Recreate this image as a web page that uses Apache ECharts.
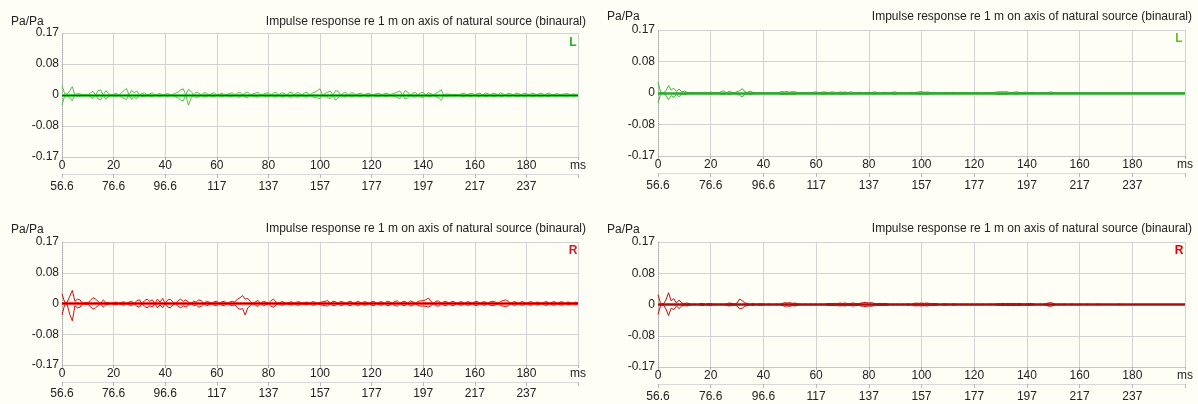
<!DOCTYPE html>
<html><head><meta charset="utf-8">
<script src="https://cdn.jsdelivr.net/npm/echarts@6/dist/echarts.min.js"></script>
<style>html,body{margin:0;padding:0;background:#fefef6;}#c{width:1198px;height:404px;}</style>
</head><body><div id="c"></div>
<script>
// ---------------- data ----------------
const sampleStepMs = 1; // envelope samples, 0..200 ms
const xTickLabels = ['0','20','40','60','80','100','120','140','160','180','ms'];
const timeTickLabels = ['56.6','76.6','96.6','117','137','157','177','197','217','237',''];
const yTickLabels = ['-0.17','-0.08','0','0.08','0.17'];
const panelTitle = 'Impulse response re 1 m on axis of natural source (binaural)';
const unitLabel = 'Pa/Pa';
const channelLabels = ['L','L','R','R'];

// top-left (L)
const tlUpper = [
.026,.004,.002,.012,.023,0,.004,.003,0,.002,
0,.006,.01,0,.012,.014,0,.012,.004,0,
.002,.005,0,.006,.012,.018,0,.013,.006,.011,
0,.004,.006,0,.003,.006,0,.002,.004,0,
.002,.004,0,.002,.005,.008,.014,.017,0,.016,
.01,0,.008,.005,0,.006,.005,0,.004,.006,
0,.002,.005,0,.002,.004,.006,0,.005,.007,
0,.006,.008,0,.003,.005,.007,0,.002,.005,
.006,0,.005,.007,0,.006,.005,0,.006,.008,
0,.006,.005,0,.006,.007,0,.005,.008,.012,
.017,0,.004,.008,.011,0,.012,.01,0,.005,
.007,0,.006,.005,0,.004,.005,0,.004,.005,
0,.002,.004,.005,0,.004,.005,0,.003,.005,
.008,.011,0,.012,.008,0,.005,.007,0,.006,
.007,0,.006,.004,0,.005,.009,.014,0,.003,
.002,0,.002,.001,0,.004,.005,0,.004,.005,
0,.004,.005,0,.005,.004,0,.005,.004,0,
.006,.003,0,.005,.003,0,.005,.004,0,.005,
.004,0,.005,.004,0,.004,.005,0,.004,.005,
0,.002,.004,0,.002,.003,.004,0,.003,.002,
0];
const tlLower = [
-.028,-.003,-.002,-.008,-.016,0,-.003,-.003,0,-.002,
0,-.005,-.01,0,-.011,-.013,0,-.012,-.004,0,
-.002,-.004,0,-.005,-.01,-.012,0,-.012,-.006,-.01,
0,-.004,-.005,0,-.003,-.005,0,-.002,-.004,0,
-.002,-.004,0,-.002,-.005,-.008,-.014,-.016,0,-.028,
-.01,0,-.007,-.005,0,-.006,-.005,0,-.004,-.005,
0,-.002,-.005,0,-.002,-.004,-.006,0,-.005,-.006,
0,-.006,-.007,0,-.003,-.005,-.006,0,-.002,-.005,
-.005,0,-.005,-.006,0,-.006,-.005,0,-.005,-.007,
0,-.006,-.005,0,-.005,-.006,0,-.005,-.007,-.008,
-.01,0,-.004,-.007,-.01,0,-.014,-.009,0,-.005,
-.006,0,-.005,-.005,0,-.004,-.004,0,-.004,-.005,
0,-.002,-.004,-.004,0,-.004,-.004,0,-.003,-.004,
-.007,-.01,0,-.011,-.008,0,-.005,-.006,0,-.006,
-.006,0,-.005,-.004,0,-.005,-.008,-.015,0,-.003,
-.002,0,-.002,-.001,0,-.004,-.004,0,-.004,-.004,
0,-.004,-.004,0,-.004,-.004,0,-.004,-.004,0,
-.005,-.003,0,-.004,-.003,0,-.004,-.004,0,-.004,
-.004,0,-.004,-.004,0,-.004,-.004,0,-.004,-.004,
0,-.002,-.003,0,-.002,-.003,-.003,0,-.003,-.002,
0];

// top-right (L)
const trUpper = [
.029,.002,.001,.006,.02,.008,.013,.004,.011,.003,
.005,.002,0,.002,0,.002,0,.001,.002,0,
.003,0,.001,0,.004,.006,0,.005,.002,0,
.004,.006,.012,.003,.002,.005,.002,0,.001,0,
.001,0,.001,0,.001,0,.002,.004,.003,.004,
.002,.004,.003,.001,0,.001,0,.002,0,.002,
.003,.001,.002,.003,.002,.001,.003,.002,0,.003,
.002,.003,.001,.003,.002,0,.002,.001,0,.001,
.002,.001,.003,.002,0,.001,.002,.001,0,.002,
.003,.001,0,.001,.001,0,.002,.001,.002,.003,
.004,.002,.003,.002,.001,.002,0,.001,0,.002,
.001,0,.002,.001,0,.001,.002,0,.001,.001,
0,.002,.001,0,.001,0,.001,.001,.002,.003,
.004,.003,.004,.002,.001,.002,.003,.002,.001,.002,
.002,.001,.002,.001,0,.001,0,.001,.001,.003,
.001,0,.001,0,0,.001,0,.001,0,0,
.001,0,0,.001,0,0,.001,0,0,0,
.001,0,0,0,.001,0,0,0,0,.001,
0,0,0,0,0,0,0,0,0,0,
0,0,0,0,0,0,0,0,0,0,
0];
const trLower = [
-.027,-.002,-.001,-.006,-.018,-.007,-.012,-.004,-.01,-.003,
-.004,-.002,0,-.002,0,-.002,0,-.001,-.002,0,
-.003,0,-.001,0,-.004,-.005,0,-.005,-.002,0,
-.004,-.006,-.011,-.003,-.002,-.004,-.002,0,-.001,0,
-.001,0,-.001,0,-.001,0,-.002,-.004,-.003,-.004,
-.002,-.004,-.003,-.001,0,-.001,0,-.002,0,-.002,
-.002,-.001,-.002,-.003,-.002,-.001,-.003,-.002,0,-.003,
-.002,-.003,-.001,-.002,-.002,0,-.002,-.001,0,-.001,
-.002,-.001,-.003,-.002,0,-.001,-.002,-.001,0,-.002,
-.003,-.001,0,-.001,-.001,0,-.002,-.001,-.002,-.003,
-.003,-.002,-.003,-.002,-.001,-.002,0,-.001,0,-.002,
-.001,0,-.002,-.001,0,-.001,-.002,0,-.001,-.001,
0,-.002,-.001,0,-.001,0,-.001,-.001,-.002,-.003,
-.004,-.003,-.004,-.002,-.001,-.002,-.003,-.002,-.001,-.002,
-.002,-.001,-.002,-.001,0,-.001,0,-.001,-.001,-.003,
-.001,0,-.001,0,0,-.001,0,-.001,0,0,
-.001,0,0,-.001,0,0,-.001,0,0,0,
-.001,0,0,0,-.001,0,0,0,0,-.001,
0,0,0,0,0,0,0,0,0,0,
0,0,0,0,0,0,0,0,0,0,
0];

// bottom-left (R)
const blUpper = [
.027,.004,.003,.02,.036,.006,.012,.01,0,.003,
.002,.008,.016,.012,.006,0,.01,.003,.002,0,
.002,.004,0,.003,.005,0,.004,.006,0,.008,
.01,0,.008,.012,.006,.01,0,.012,.004,.014,
0,.01,.012,.004,0,.008,.012,.006,.01,.004,
0,.006,.004,.01,.008,0,.006,.004,0,.005,
.006,0,.005,.006,0,.004,.006,.004,.012,.016,
.022,.012,.014,.006,0,.005,.008,0,.006,.004,
0,.008,.012,.004,0,.005,.004,0,.003,.005,
0,.004,.005,0,.003,.004,0,.005,.004,0,
.003,.005,.006,.008,0,.006,.005,0,.006,.004,
0,.005,.006,0,.004,.006,0,.005,.004,0,
.005,.006,0,.004,.005,0,.006,.005,0,.006,
.007,0,.005,.006,0,.007,.005,0,.006,.007,
.008,.01,.015,.006,0,.006,.007,0,.005,.006,
0,.006,.005,0,.004,.005,0,.005,.004,0,
.005,.006,0,.004,.005,0,.005,.006,.004,0,
.006,.008,.01,.006,0,.005,.004,0,.005,.004,
0,.004,.005,0,.004,.003,0,.004,.005,0,
.004,.005,0,.004,.005,0,.004,.003,0,.004,
0];
const blLower = [
-.032,-.004,-.003,-.03,-.048,-.006,-.012,-.01,0,-.003,
-.002,-.008,-.016,-.012,-.006,0,-.01,-.003,-.002,0,
-.002,-.004,0,-.003,-.005,0,-.004,-.006,0,-.008,
-.01,0,-.008,-.012,-.006,-.01,0,-.012,-.004,-.012,
0,-.01,-.012,-.004,0,-.008,-.012,-.006,-.01,-.004,
0,-.006,-.004,-.01,-.008,0,-.006,-.004,0,-.005,
-.006,0,-.005,-.006,0,-.004,-.006,-.004,-.012,-.016,
-.014,-.032,-.012,-.006,0,-.005,-.008,0,-.006,-.004,
0,-.008,-.01,-.004,0,-.005,-.004,0,-.003,-.005,
0,-.004,-.005,0,-.003,-.004,0,-.005,-.004,0,
-.003,-.005,-.006,-.007,0,-.006,-.005,0,-.006,-.004,
0,-.005,-.006,0,-.004,-.006,0,-.005,-.004,0,
-.005,-.006,0,-.004,-.005,0,-.006,-.005,0,-.006,
-.007,0,-.005,-.006,0,-.007,-.005,0,-.006,-.007,
-.007,-.008,-.01,-.006,0,-.006,-.007,0,-.005,-.006,
0,-.006,-.005,0,-.004,-.005,0,-.005,-.004,0,
-.005,-.006,0,-.004,-.005,0,-.005,-.006,-.004,0,
-.006,-.007,-.009,-.006,0,-.005,-.004,0,-.005,-.004,
0,-.004,-.005,0,-.004,-.003,0,-.004,-.005,0,
-.004,-.005,0,-.004,-.005,0,-.004,-.003,0,-.004,
0];

// bottom-right (R)
const brUpper = [
.027,.002,.001,.012,.032,.01,.016,.004,.012,.004,
.003,.004,.002,0,.001,0,.002,.003,0,.002,
.003,0,.001,0,.001,0,.002,.004,.003,.001,
.004,.015,.01,.004,.003,0,.003,0,.001,.002,
.001,0,.001,0,0,.001,0,.002,.005,.004,
.005,.003,.004,.002,.001,0,.001,0,.001,0,
.001,0,.001,0,.002,.003,.002,.003,.002,.004,
.003,.004,.002,.003,.004,.003,.002,.004,.005,.006,
.004,.005,.003,.002,.003,.002,.003,.002,0,.001,
0,.001,0,.001,0,.002,0,.003,.004,.003,
.004,.003,.004,.003,.002,.003,.002,0,.001,.002,
.001,0,.002,.001,0,.001,0,.001,0,.001,
0,.001,0,.001,0,0,.001,0,.001,.002,
.002,.003,.002,.003,.002,.003,.002,.003,.002,.001,
.002,.003,.002,.001,0,.001,0,.002,.004,.005,
.003,0,.001,0,.001,0,0,.001,0,0,
.001,0,0,.001,0,0,0,.001,0,0,
0,0,0,0,0,.001,0,0,0,0,
0,0,0,0,0,0,0,0,0,0,
0,0,0,0,0,0,0,0,0,0,
0];
const brLower = [
-.027,-.002,-.001,-.012,-.03,-.01,-.014,-.004,-.011,-.004,
-.003,-.004,-.002,0,-.001,0,-.002,-.003,0,-.002,
-.003,0,-.001,0,-.001,0,-.002,-.004,-.003,-.001,
-.004,-.012,-.01,-.004,-.003,0,-.003,0,-.001,-.002,
-.001,0,-.001,0,0,-.001,0,-.002,-.005,-.004,
-.005,-.003,-.004,-.002,-.001,0,-.001,0,-.001,0,
-.001,0,-.001,0,-.002,-.003,-.002,-.003,-.002,-.004,
-.003,-.004,-.002,-.003,-.004,-.003,-.002,-.004,-.005,-.006,
-.004,-.005,-.003,-.002,-.003,-.002,-.003,-.002,0,-.001,
0,-.001,0,-.001,0,-.002,0,-.003,-.004,-.003,
-.004,-.003,-.004,-.003,-.002,-.003,-.002,0,-.001,-.002,
-.001,0,-.002,-.001,0,-.001,0,-.001,0,-.001,
0,-.001,0,-.001,0,0,-.001,0,-.001,-.002,
-.002,-.003,-.002,-.003,-.002,-.003,-.002,-.003,-.002,-.001,
-.002,-.003,-.002,-.001,0,-.001,0,-.002,-.004,-.005,
-.003,0,-.001,0,-.001,0,0,-.001,0,0,
-.001,0,0,-.001,0,0,0,-.001,0,0,
0,0,0,0,0,-.001,0,0,0,0,
0,0,0,0,0,0,0,0,0,0,
0,0,0,0,0,0,0,0,0,0,
0];

// ---------------- layout / styles ----------------
const FONT = '"Liberation Sans", Arial, sans-serif';
const panels = [
  {up: tlUpper, lo: tlLower, grid:{left:62,top:33,width:516,height:124}, env:'#4fbf4f', zero:'#1fb41f', black:0.5,
   chColor:'#22b422', unit:[11,22], title:[586,22], ch:[573,43], m1:3, off2:17, m2:7},
  {up: trUpper, lo: trLower, grid:{left:658,top:30,width:527,height:126}, env:'#3cb43c', zero:'#2aa82a', black:0,
   chColor:'#5cc41c', unit:[607,17], title:[1192,17], ch:[1179,39], m1:3, off2:17, m2:7},
  {up: blUpper, lo: blLower, grid:{left:62,top:242,width:516,height:123}, env:'#c81414', zero:'#ee0000', black:0.75,
   chColor:'#c8202c', unit:[11,230], title:[586,229], ch:[573,251], m1:3, off2:17, m2:6},
  {up: brUpper, lo: brLower, grid:{left:658,top:242,width:527,height:125}, env:'#c40c0c', zero:'#a81010', black:0,
   chColor:'#e80000', unit:[607,230], title:[1192,229], ch:[1179,251], m1:3, off2:17, m2:7},
];

const grid = [], xAxis = [], yAxis = [], series = [], graphic = [];
panels.forEach((p, i) => {
  grid.push(Object.assign({containLabel:false}, p.grid));
  xAxis.push({
    type:'value', gridIndex:i, min:0, max:200, interval:20, position:'bottom',
    axisLine:{show:true, onZero:false, lineStyle:{color:'#c8c8c8'}},
    axisTick:{show:true, length:3, lineStyle:{color:'#b0b0b0'}},
    axisLabel:{margin:p.m1, color:'#222', fontSize:12, fontFamily:FONT,
      formatter:v => xTickLabels[Math.round(v/20)] ?? ''},
    splitLine:{show:true, showMinLine:false, lineStyle:{color:'#d2d2d2'}}
  });
  xAxis.push({
    type:'value', gridIndex:i, min:0, max:200, interval:20, position:'bottom', offset:p.off2,
    axisLine:{show:true, onZero:false, lineStyle:{color:'#d8d8d8'}},
    axisTick:{show:true, length:4, lineStyle:{color:'#b8b8b8'}},
    axisLabel:{margin:p.m2, color:'#222', fontSize:12, fontFamily:FONT,
      formatter:v => timeTickLabels[Math.round(v/20)] ?? ''},
    splitLine:{show:false}
  });
  yAxis.push({
    type:'value', gridIndex:i, min:-0.17, max:0.17, interval:0.085,
    axisLine:{show:true, onZero:false, lineStyle:{color:'#a8a8a8', type:'dotted'}},
    axisTick:{show:false},
    axisLabel:{margin:3, color:'#222', fontSize:12, fontFamily:FONT,
      formatter:v => yTickLabels[Math.round((v + 0.17)/0.085)] ?? ''},
    splitLine:{show:true, showMinLine:true, lineStyle:{color:'#d2d2d2'}}
  });
  const toPts = arr => arr.map((v, k) => [k*sampleStepMs, v]);
  const zeroLines = [{yAxis:0, lineStyle:{color:p.zero, width:2.5, type:'solid'}}];
  if (p.black) zeroLines.push({yAxis:0, lineStyle:{color:'#111', width:1, type:'solid', opacity:p.black}});
  series.push({
    type:'line', xAxisIndex:2*i, yAxisIndex:i, data:toPts(p.up), showSymbol:false,
    lineStyle:{color:p.env, width:1}, silent:true, z:2,
    markLine:{silent:true, symbol:'none', label:{show:false}, data:zeroLines, z:3}
  });
  series.push({
    type:'line', xAxisIndex:2*i, yAxisIndex:i, data:toPts(p.lo), showSymbol:false,
    lineStyle:{color:p.env, width:1}, silent:true, z:2
  });
  graphic.push({type:'text', x:p.unit[0], y:p.unit[1], style:{text:unitLabel, font:'12px '+FONT, fill:'#222', align:'left', verticalAlign:'middle'}});
  graphic.push({type:'text', x:p.title[0], y:p.title[1], style:{text:panelTitle, font:'12px '+FONT, fill:'#222', align:'right', verticalAlign:'middle'}});
  graphic.push({type:'text', x:p.ch[0], y:p.ch[1], style:{text:channelLabels[i], font:'bold 12px '+FONT, fill:p.chColor, align:'center', verticalAlign:'middle'}});
});

const chart = echarts.init(document.getElementById('c'), null, {renderer:'canvas'});
chart.setOption({
  backgroundColor:'#fefef6',
  animation:false,
  grid, xAxis, yAxis, series, graphic
});
</script>
</body></html>
